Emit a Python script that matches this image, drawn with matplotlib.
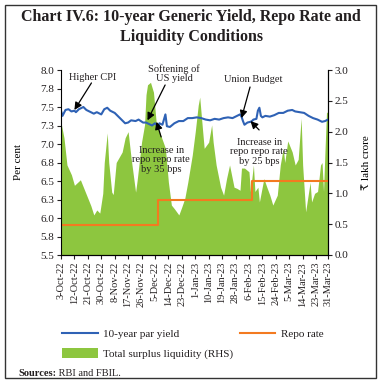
import pandas as pd
import matplotlib as mpl
import matplotlib.pyplot as plt
from matplotlib.patches import Rectangle

mpl.rcParams['font.family'] = ['Liberation Serif', 'DejaVu Serif', 'DejaVu Sans']
mpl.rcParams['text.color'] = '#231f20'
mpl.rcParams['xtick.color'] = '#231f20'
mpl.rcParams['ytick.color'] = '#231f20'

# 10-year par yield (per cent)
yield_dates = [
    '3-Oct-22', '4-Oct-22', '6-Oct-22', '8-Oct-22', '10-Oct-22', '12-Oct-22', '13-Oct-22',
    '15-Oct-22', '18-Oct-22', '20-Oct-22', '22-Oct-22', '25-Oct-22', '27-Oct-22', '30-Oct-22',
    '1-Nov-22', '3-Nov-22', '5-Nov-22', '8-Nov-22', '10-Nov-22', '13-Nov-22', '15-Nov-22',
    '17-Nov-22', '19-Nov-22', '22-Nov-22', '24-Nov-22', '27-Nov-22', '29-Nov-22', '1-Dec-22',
    '3-Dec-22', '5-Dec-22', '7-Dec-22', '8-Dec-22', '10-Dec-22', '12-Dec-22', '13-Dec-22',
    '15-Dec-22', '18-Dec-22', '21-Dec-22', '24-Dec-22', '27-Dec-22', '30-Dec-22', '2-Jan-23',
    '5-Jan-23', '8-Jan-23', '11-Jan-23', '14-Jan-23', '17-Jan-23', '20-Jan-23', '23-Jan-23',
    '26-Jan-23', '29-Jan-23', '31-Jan-23', '1-Feb-23', '2-Feb-23', '3-Feb-23', '5-Feb-23',
    '7-Feb-23', '8-Feb-23', '9-Feb-23', '11-Feb-23', '12-Feb-23', '13-Feb-23', '14-Feb-23',
    '15-Feb-23', '17-Feb-23', '20-Feb-23', '23-Feb-23', '26-Feb-23', '1-Mar-23', '4-Mar-23',
    '7-Mar-23', '9-Mar-23', '12-Mar-23', '15-Mar-23', '18-Mar-23', '21-Mar-23', '24-Mar-23',
    '27-Mar-23', '29-Mar-23', '31-Mar-23',
]
yield_vals = [
    7.45, 7.38, 7.46, 7.47, 7.44, 7.45, 7.43,
    7.47, 7.50, 7.46, 7.44, 7.41, 7.43, 7.40,
    7.47, 7.49, 7.45, 7.42, 7.38, 7.32, 7.28,
    7.29, 7.32, 7.31, 7.33, 7.29, 7.29, 7.27,
    7.25, 7.28, 7.24, 7.28, 7.26, 7.40, 7.24,
    7.23, 7.28, 7.31, 7.31, 7.35, 7.35, 7.36,
    7.35, 7.33, 7.32, 7.34, 7.33, 7.35, 7.36,
    7.35, 7.38, 7.40, 7.37, 7.31, 7.26, 7.29,
    7.30, 7.31, 7.33, 7.34, 7.45, 7.49, 7.38,
    7.36, 7.38, 7.37, 7.39, 7.42, 7.42, 7.45,
    7.46, 7.44, 7.43, 7.42, 7.38, 7.35, 7.33,
    7.30, 7.31, 7.33,
]

# policy repo rate (per cent), step changes
repo_dates = ['3-Oct-22', '7-Dec-22', '8-Feb-23', '31-Mar-23']
repo_vals = [5.90, 6.25, 6.50, 6.50]

# total surplus liquidity (lakh crore, RHS)
liq_dates = [
    '3-Oct-22', '5-Oct-22', '7-Oct-22', '10-Oct-22', '12-Oct-22', '16-Oct-22', '18-Oct-22',
    '21-Oct-22', '23-Oct-22', '25-Oct-22', '27-Oct-22', '29-Oct-22', '31-Oct-22', '1-Nov-22',
    '3-Nov-22', '4-Nov-22', '6-Nov-22', '7-Nov-22', '9-Nov-22', '13-Nov-22', '15-Nov-22',
    '17-Nov-22', '19-Nov-22', '22-Nov-22', '23-Nov-22', '26-Nov-22', '28-Nov-22', '29-Nov-22',
    '30-Nov-22', '2-Dec-22', '4-Dec-22', '6-Dec-22', '8-Dec-22', '12-Dec-22', '14-Dec-22',
    '16-Dec-22', '18-Dec-22', '21-Dec-22', '23-Dec-22', '25-Dec-22', '27-Dec-22', '30-Dec-22',
    '1-Jan-23', '3-Jan-23', '4-Jan-23', '6-Jan-23', '7-Jan-23', '10-Jan-23', '12-Jan-23',
    '13-Jan-23', '15-Jan-23', '18-Jan-23', '20-Jan-23', '22-Jan-23', '24-Jan-23', '27-Jan-23',
    '29-Jan-23', '31-Jan-23', '1-Feb-23', '3-Feb-23', '6-Feb-23', '7-Feb-23', '8-Feb-23',
    '9-Feb-23', '10-Feb-23', '12-Feb-23', '13-Feb-23', '16-Feb-23', '18-Feb-23', '20-Feb-23',
    '22-Feb-23', '25-Feb-23', '27-Feb-23', '1-Mar-23', '2-Mar-23', '4-Mar-23', '7-Mar-23',
    '9-Mar-23', '11-Mar-23', '13-Mar-23', '14-Mar-23', '16-Mar-23', '17-Mar-23', '19-Mar-23',
    '20-Mar-23', '22-Mar-23', '24-Mar-23', '26-Mar-23', '27-Mar-23', '28-Mar-23', '29-Mar-23',
    '30-Mar-23', '31-Mar-23',
]
liq_vals = [
    2.15, 1.90, 1.46, 1.30, 1.13, 1.22, 1.10,
    0.92, 0.80, 0.65, 0.73, 0.68, 1.00, 1.50,
    1.98, 1.50, 1.02, 0.98, 1.50, 1.67, 1.90,
    2.00, 1.57, 1.02, 1.20, 1.83, 2.11, 2.60,
    2.76, 2.80, 2.64, 2.10, 2.00, 1.73, 1.18,
    0.81, 0.75, 0.65, 0.78, 0.92, 1.18, 1.62,
    2.00, 2.43, 2.56, 2.00, 1.73, 1.83, 2.11,
    1.83, 1.46, 1.10, 0.97, 1.24, 1.46, 1.10,
    1.08, 1.05, 1.41, 1.41, 1.35, 1.03, 1.25,
    1.46, 1.03, 1.10, 0.86, 1.24, 1.10, 0.97,
    0.81, 0.97, 1.46, 1.73, 1.50, 1.85, 1.67,
    1.46, 1.55, 2.22, 1.46, 0.70, 0.86, 1.18,
    0.86, 1.00, 1.03, 1.46, 1.50, 1.03, 1.70,
    2.32, 2.30,
]

xtick_labels = [
    '3-Oct-22', '12-Oct-22', '21-Oct-22', '30-Oct-22', '8-Nov-22', '17-Nov-22', '26-Nov-22',
    '5-Dec-22', '14-Dec-22', '23-Dec-22', '1-Jan-23', '10-Jan-23', '19-Jan-23', '28-Jan-23',
    '6-Feb-23', '15-Feb-23', '24-Feb-23', '5-Mar-23', '14-Mar-23', '23-Mar-23', '31-Mar-23',
]
left_ticks = [5.5, 5.75, 6.0, 6.25, 6.5, 6.75, 7.0, 7.25, 7.5, 7.75, 8.0]
left_labels = ['5.5', '5.8', '6.0', '6.3', '6.5', '6.8', '7.0', '7.3', '7.5', '7.8', '8.0']
right_ticks = [0.0, 0.5, 1.0, 1.5, 2.0, 2.5, 3.0]
right_labels = ['0.0', '0.5', '1.0', '1.5', '2.0', '2.5', '3.0']


def to_dt(s):
    return pd.to_datetime(s, format='%d-%b-%y')


blue = '#2f62b5'
orange = '#f37a20'
green = '#8dc63f'
fs = 7.5

fig = plt.figure(figsize=(3.82, 3.84), dpi=100)
ax = fig.add_axes([61 / 382, 1 - 255 / 384, 267 / 382, 185 / 384])
ax2 = ax.twinx()
ax.set_zorder(ax2.get_zorder() + 1)
ax.patch.set_visible(False)

liq = ax2.fill_between(to_dt(liq_dates), 0, liq_vals, color=green, lw=0,
                       label='Total surplus liquidity (RHS)')
l_yield, = ax.plot(to_dt(yield_dates), yield_vals, color=blue, lw=1.5,
                   label='10-year par yield')
l_repo, = ax.plot(to_dt(repo_dates), repo_vals, color=orange, lw=1.5,
                  drawstyle='steps-post', label='Repo rate')

xt = to_dt(xtick_labels)
ax.set_xlim(xt[0], xt[-1])
ax.set_xticks(xt)
ax.set_xticklabels(xtick_labels, rotation=90, fontsize=fs)

ax.set_ylim(5.5, 8.0)
ax.set_yticks(left_ticks)
ax.set_yticklabels(left_labels, fontsize=fs + 0.5)
ax2.set_ylim(0, 3.0)
ax2.set_yticks(right_ticks)
ax2.set_yticklabels(right_labels, fontsize=fs + 0.5)

for a in (ax, ax2):
    a.spines['top'].set_visible(False)
    a.tick_params(direction='out', length=3, width=0.8, pad=2)
ax2.spines['left'].set_visible(False)

ax.set_ylabel('Per cent', fontsize=fs + 0.5)
ax.yaxis.set_label_coords(-0.143, 0.5)
ax2.set_ylabel('₹ lakh crore', fontsize=fs + 0.5, rotation=90)
ax2.yaxis.set_label_coords(1.127, 0.5)

# annotations
arrow = dict(arrowstyle='-|>', color='black', lw=0.9, mutation_scale=11,
             shrinkA=0, shrinkB=0)
notes = [
    ('Higher CPI', (0.12, 0.957), (0.114, 0.93), ('12-Oct-22', 7.46)),
    ('Softening of\nUS yield', (0.423, 0.981), (0.39, 0.919), ('30-Nov-22', 7.32)),
    ('Increase in\nrepo repo rate\nby 35 bps', (0.375, 0.514), (0.375, 0.638), ('6-Dec-22', 7.30)),
    ('Union Budget', (0.719, 0.951), (0.708, 0.908), ('1-Feb-23', 7.35)),
    ('Increase in\nrepo repo rate\nby 25 bps', (0.742, 0.557), (0.742, 0.676), ('7-Feb-23', 7.31)),
]
for txt, tpos, tail, (tdate, tval) in notes:
    ax.text(tpos[0], tpos[1], txt, transform=ax.transAxes, ha='center', va='center',
            fontsize=fs, linespacing=1.05)
    ax.annotate('', xy=(to_dt(tdate), tval), xycoords='data',
                xytext=tail, textcoords='axes fraction', arrowprops=arrow)

# title
fig.text(0.5, 1 - 27 / 384, 'Chart IV.6: 10-year Generic Yield, Repo Rate and\nLiquidity Conditions',
         ha='center', va='center', fontsize=11.5, fontweight='bold', linespacing=1.3)

# legend
fig.legend([l_yield, liq, l_repo],
           ['10-year par yield', 'Total surplus liquidity (RHS)', 'Repo rate'],
           ncol=2, loc='upper left', bbox_to_anchor=(62 / 382, 1 - 329 / 384),
           frameon=False, fontsize=fs + 0.5, handlelength=3.2, handleheight=0.9,
           handletextpad=0.5, columnspacing=0.6, labelspacing=0.8,
           borderpad=0, borderaxespad=0)

src = fig.text(18 / 382, 1 - 373 / 384, 'Sources:', fontsize=fs, fontweight='bold',
               va='center')
ax.annotate(' RBI and FBIL.', xy=(1, 0.5), xycoords=src, va='center', fontsize=fs)

fig.patches.append(Rectangle((5 / 382, 1 - 378 / 384), 371 / 382, 373 / 384,
                             transform=fig.transFigure, fill=False, ec='#333333', lw=1))

fig.savefig('out.png', dpi=100)
